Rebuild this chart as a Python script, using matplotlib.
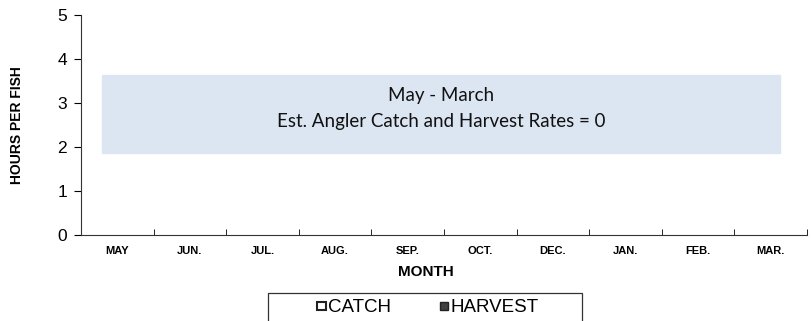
import matplotlib.pyplot as plt
from matplotlib.patches import Patch
import numpy as np

months = ['MAY', 'JUN.', 'JUL.', 'AUG.', 'SEP.', 'OCT.', 'DEC.', 'JAN.', 'FEB.', 'MAR.']
catch = [0, 0, 0, 0, 0, 0, 0, 0, 0, 0]
harvest = [0, 0, 0, 0, 0, 0, 0, 0, 0, 0]
note = ['May - March', 'Est. Angler Catch and Harvest Rates = 0']

plt.rcParams['font.family'] = ['Liberation Sans', 'DejaVu Sans']

fig = plt.figure(figsize=(8.11, 3.21), dpi=100)
ax = fig.add_axes([81 / 811, 1 - 235 / 321, (807 - 81) / 811, 220 / 321])

x = np.arange(len(months))
w = 0.3
# all values are zero, so the bars have no height
ax.bar(x - w / 2, catch, w, color='white', linewidth=0)
ax.bar(x + w / 2, harvest, w, color='#404040', linewidth=0)

# shaded note box
ax.add_patch(plt.Rectangle((-0.21, 1.86), 9.34, 1.78, color='#dce6f2', zorder=0))
ax.text(4.46, 3.18, note[0], ha='center', va='center', fontsize=13.5,
        family=['Lato', 'DejaVu Sans'], color='#111111')
ax.text(4.46, 2.59, note[1], ha='center', va='center', fontsize=13.5,
        family=['Lato', 'DejaVu Sans'], color='#111111')

ax.set_xlim(-0.5, len(months) - 0.5)
ax.set_ylim(0, 5)
ax.set_yticks(range(6))
ax.tick_params(axis='y', labelsize=12.5, length=5, direction='out', pad=5)
ax.set_xticks(x)
ax.set_xticklabels(months, fontsize=8, fontweight='bold')
ax.set_xticks(np.arange(-0.5, len(months)), minor=True)
ax.tick_params(axis='x', which='major', length=0, pad=8)
ax.tick_params(axis='x', which='minor', length=4, direction='in')
for s in ['top', 'right']:
    ax.spines[s].set_visible(False)
for s in ['left', 'bottom']:
    ax.spines[s].set_color('#333333')
ax.set_xlabel('MONTH', fontsize=11, fontweight='bold')
ax.xaxis.set_label_coords(0.475, -0.138)
ax.set_ylabel('HOURS PER FISH', fontsize=10, fontweight='bold', labelpad=24)

# legend frame drawn by hand so it can be wider than its contents
fig.patches.append(plt.Rectangle((268 / 811, -0.05), (582 - 268) / 811, 0.05 + 1 - 293 / 321,
                                 transform=fig.transFigure, facecolor='white',
                                 edgecolor='#333333', linewidth=0.9))
handles = [Patch(facecolor='white', edgecolor='#222222', linewidth=1.5, label='CATCH'),
           Patch(facecolor='#404040', edgecolor='#222222', linewidth=1, label='HARVEST')]
leg = fig.legend(handles=handles, loc='center', bbox_to_anchor=(0.5277, 1 - 308 / 321), ncol=2,
                 fontsize=13.5, frameon=False,
                 handlelength=0.45, handleheight=0.3, handletextpad=0.12,
                 columnspacing=2.6, borderpad=0)

fig.savefig('out.png', dpi=100)
